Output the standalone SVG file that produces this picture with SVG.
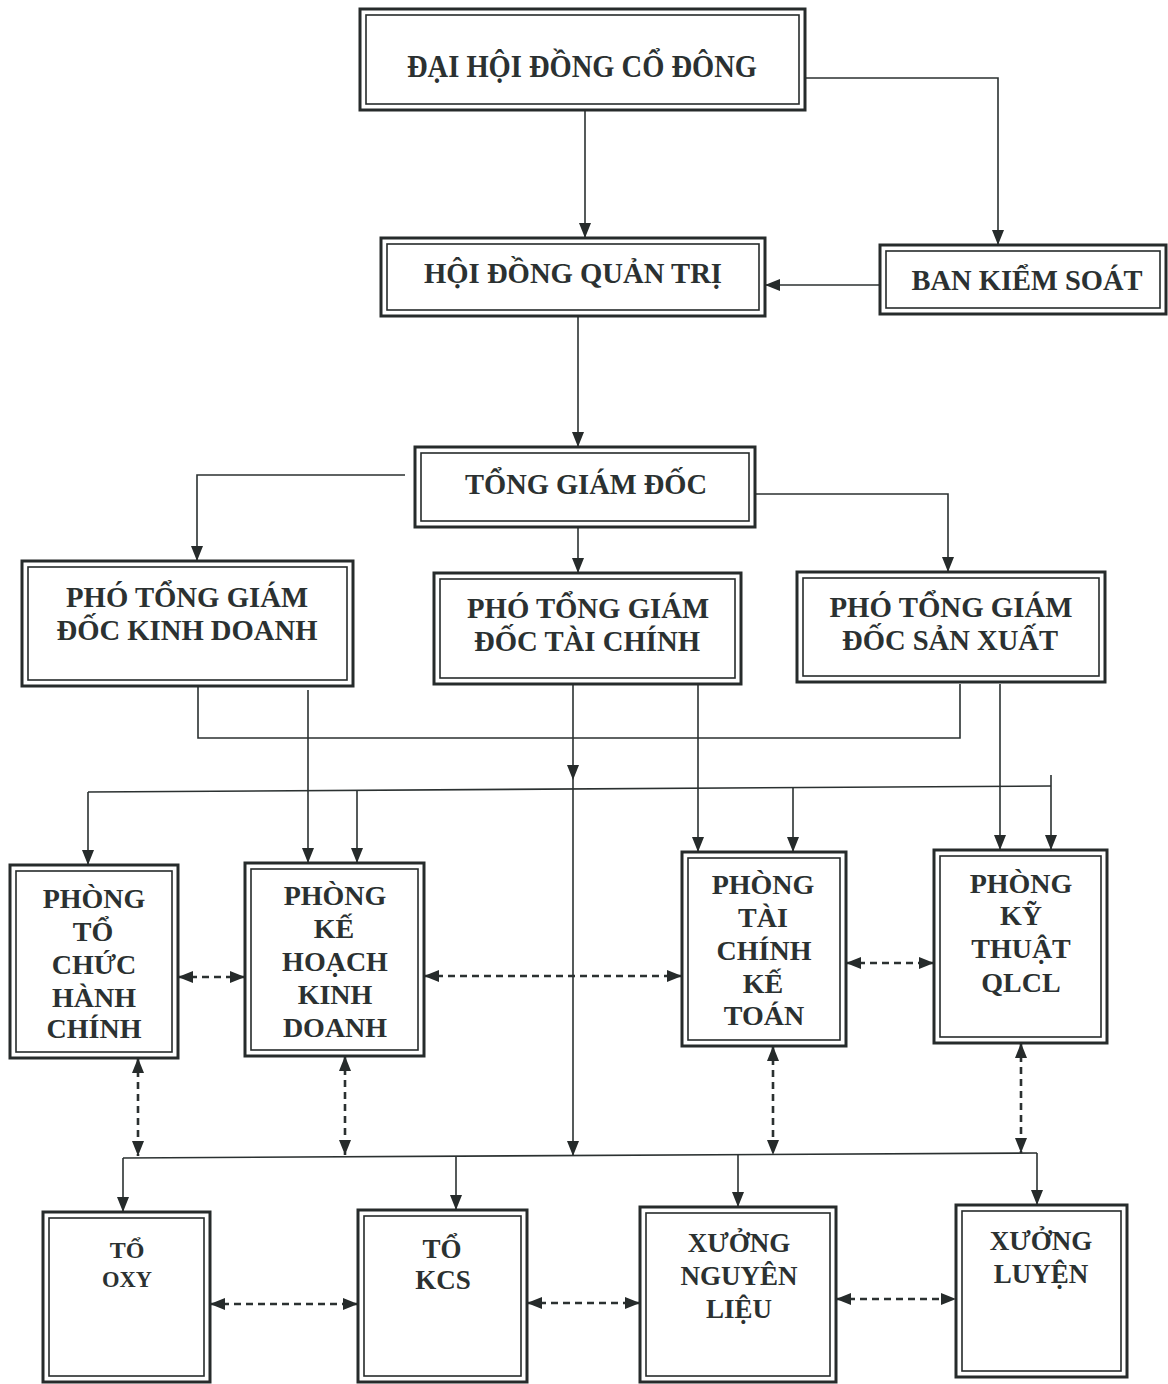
<svg xmlns="http://www.w3.org/2000/svg" width="1168" height="1384" viewBox="0 0 1168 1384">
<defs>
<marker id="ah" markerUnits="userSpaceOnUse" markerWidth="15" markerHeight="12" refX="15" refY="6" orient="auto-start-reverse">
<path d="M0,0 L15,6 L0,12 z" fill="#262b2b"/>
</marker>
<style>
.o{fill:#fff;stroke:#262b2b;stroke-width:3}
.i{fill:none;stroke:#262b2b;stroke-width:1.6}
.t{font-family:"Liberation Serif","Times New Roman",serif;font-weight:bold;fill:#2b3131;text-anchor:middle}
.c{fill:none;stroke:#2b3131;stroke-width:1.6}
.a{marker-end:url(#ah)}
.d{fill:none;stroke:#2b3131;stroke-width:2.6;stroke-dasharray:7 5;marker-start:url(#ah);marker-end:url(#ah)}
</style>
</defs>
<rect width="1168" height="1384" fill="#fff"/>

<g id="connectors">
<path class="c a" d="M585,110 V238"/>
<path class="c a" d="M805,78 H998 V245"/>
<path class="c a" d="M880,285 H765"/>
<path class="c a" d="M578,316 V447"/>
<path class="c a" d="M405,475 H197 V561"/>
<path class="c a" d="M578,527 V573"/>
<path class="c a" d="M755,494 H948 V572"/>
<path class="c" d="M198,686 V738 H960 V684"/>
<path class="c a" d="M308,690 V863"/>
<path class="c a" d="M573,684 V780"/>
<path class="c a" d="M573,780 V1156"/>
<path class="c a" d="M698,684 V852"/>
<path class="c a" d="M1000,684 V850"/>
<path class="c" d="M88,792 L1051,786"/>
<path class="c a" d="M1051,775 V850"/>
<path class="c a" d="M88,792 V865"/>
<path class="c a" d="M357,791 V863"/>
<path class="c a" d="M793,787 V852"/>
<path class="c" d="M123,1158 L1037,1153"/>
<path class="c a" d="M123,1158 V1212"/>
<path class="c a" d="M456,1156 V1210"/>
<path class="c a" d="M738,1155 V1207"/>
<path class="c a" d="M1037,1153 V1205"/>
<path class="d" d="M178,977 H245"/>
<path class="d" d="M424,976 H682"/>
<path class="d" d="M846,963 H934"/>
<path class="d" d="M138,1058 V1156"/>
<path class="d" d="M345,1056 V1155"/>
<path class="d" d="M773,1046 V1155"/>
<path class="d" d="M1021,1043 V1153"/>
<path class="d" d="M210,1304 H358"/>
<path class="d" d="M527,1303 H640"/>
<path class="d" d="M836,1299 H956"/>
</g>

<g id="dai-hoi-dong-co-dong">
<rect class="o" x="360" y="9" width="445" height="101"/>
<rect class="i" x="366" y="15" width="433" height="89"/>
<text class="t" x="582" y="77" font-size="31" textLength="350" lengthAdjust="spacingAndGlyphs">ĐẠI HỘI ĐỒNG CỔ ĐÔNG</text>
</g>

<g id="hoi-dong-quan-tri">
<rect class="o" x="381" y="238" width="384" height="78"/>
<rect class="i" x="387" y="244" width="372" height="66"/>
<text class="t" x="573" y="283" font-size="30" textLength="298" lengthAdjust="spacingAndGlyphs">HỘI ĐỒNG QUẢN TRỊ</text>
</g>

<g id="ban-kiem-soat">
<rect class="o" x="880" y="245" width="286" height="69"/>
<rect class="i" x="886" y="251" width="274" height="57"/>
<text class="t" x="1027" y="290" font-size="30" textLength="231" lengthAdjust="spacingAndGlyphs">BAN KIỂM SOÁT</text>
</g>

<g id="tong-giam-doc">
<rect class="o" x="415" y="447" width="340" height="80"/>
<rect class="i" x="421" y="453" width="328" height="68"/>
<text class="t" x="586" y="494" font-size="30" textLength="242" lengthAdjust="spacingAndGlyphs">TỔNG GIÁM ĐỐC</text>
</g>

<g id="pho-tgd-kinh-doanh">
<rect class="o" x="22" y="561" width="331" height="125"/>
<rect class="i" x="28" y="567" width="319" height="113"/>
<text class="t" x="187" y="607" font-size="30" textLength="242" lengthAdjust="spacingAndGlyphs">PHÓ TỔNG GIÁM</text>
<text class="t" x="187" y="640" font-size="30" textLength="261" lengthAdjust="spacingAndGlyphs">ĐỐC KINH DOANH</text>
</g>

<g id="pho-tgd-tai-chinh">
<rect class="o" x="434" y="573" width="307" height="111"/>
<rect class="i" x="440" y="579" width="295" height="99"/>
<text class="t" x="588" y="618" font-size="30" textLength="242" lengthAdjust="spacingAndGlyphs">PHÓ TỔNG GIÁM</text>
<text class="t" x="587" y="651" font-size="30" textLength="226" lengthAdjust="spacingAndGlyphs">ĐỐC TÀI CHÍNH</text>
</g>

<g id="pho-tgd-san-xuat">
<rect class="o" x="797" y="572" width="308" height="110"/>
<rect class="i" x="803" y="578" width="296" height="98"/>
<text class="t" x="951" y="617" font-size="30" textLength="243" lengthAdjust="spacingAndGlyphs">PHÓ TỔNG GIÁM</text>
<text class="t" x="950" y="650" font-size="30" textLength="216" lengthAdjust="spacingAndGlyphs">ĐỐC SẢN XUẤT</text>
</g>

<g id="phong-to-chuc-hanh-chinh">
<rect class="o" x="10" y="865" width="168" height="193"/>
<rect class="i" x="16" y="871" width="156" height="181"/>
<text class="t" x="94" y="908" font-size="28">PHÒNG</text>
<text class="t" x="93" y="941" font-size="28">TỔ</text>
<text class="t" x="94" y="974" font-size="28">CHỨC</text>
<text class="t" x="94" y="1007" font-size="28">HÀNH</text>
<text class="t" x="94" y="1038" font-size="28">CHÍNH</text>
</g>

<g id="phong-ke-hoach-kinh-doanh">
<rect class="o" x="245" y="863" width="179" height="193"/>
<rect class="i" x="251" y="869" width="167" height="181"/>
<text class="t" x="335" y="905" font-size="28">PHÒNG</text>
<text class="t" x="334" y="938" font-size="28">KẾ</text>
<text class="t" x="335" y="971" font-size="28">HOẠCH</text>
<text class="t" x="335" y="1004" font-size="28">KINH</text>
<text class="t" x="335" y="1037" font-size="28">DOANH</text>
</g>

<g id="phong-tai-chinh-ke-toan">
<rect class="o" x="682" y="852" width="164" height="194"/>
<rect class="i" x="688" y="858" width="152" height="182"/>
<text class="t" x="763" y="894" font-size="28">PHÒNG</text>
<text class="t" x="763" y="927" font-size="28">TÀI</text>
<text class="t" x="764" y="960" font-size="28">CHÍNH</text>
<text class="t" x="763" y="993" font-size="28">KẾ</text>
<text class="t" x="764" y="1025" font-size="28">TOÁN</text>
</g>

<g id="phong-ky-thuat-qlcl">
<rect class="o" x="934" y="850" width="173" height="193"/>
<rect class="i" x="940" y="856" width="161" height="181"/>
<text class="t" x="1021" y="893" font-size="28">PHÒNG</text>
<text class="t" x="1021" y="925" font-size="28">KỸ</text>
<text class="t" x="1021" y="958" font-size="28">THUẬT</text>
<text class="t" x="1021" y="992" font-size="28">QLCL</text>
</g>

<g id="to-oxy">
<rect class="o" x="43" y="1212" width="167" height="170"/>
<rect class="i" x="49" y="1218" width="155" height="158"/>
<text class="t" x="127" y="1258" font-size="24">TỔ</text>
<text class="t" x="127" y="1287" font-size="24" textLength="50" lengthAdjust="spacingAndGlyphs">OXY</text>
</g>

<g id="to-kcs">
<rect class="o" x="358" y="1210" width="169" height="172"/>
<rect class="i" x="364" y="1216" width="157" height="160"/>
<text class="t" x="442" y="1258" font-size="27">TỔ</text>
<text class="t" x="443" y="1289" font-size="27">KCS</text>
</g>

<g id="xuong-nguyen-lieu">
<rect class="o" x="640" y="1207" width="196" height="175"/>
<rect class="i" x="646" y="1213" width="184" height="163"/>
<text class="t" x="739" y="1252" font-size="27">XƯỞNG</text>
<text class="t" x="739" y="1285" font-size="27">NGUYÊN</text>
<text class="t" x="739" y="1318" font-size="27">LIỆU</text>
</g>

<g id="xuong-luyen">
<rect class="o" x="956" y="1205" width="171" height="172"/>
<rect class="i" x="962" y="1211" width="159" height="160"/>
<text class="t" x="1041" y="1250" font-size="27">XƯỞNG</text>
<text class="t" x="1041" y="1283" font-size="27">LUYỆN</text>
</g>
</svg>
